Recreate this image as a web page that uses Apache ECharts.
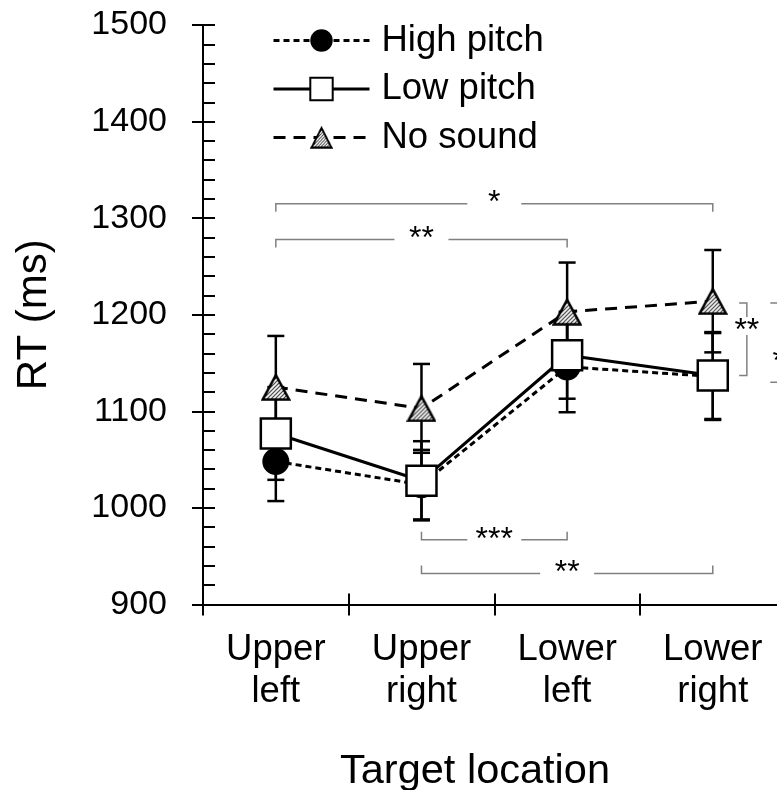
<!DOCTYPE html>
<html><head><meta charset="utf-8">
<script src="https://cdn.jsdelivr.net/npm/echarts@6/dist/echarts.min.js"></script>
<style>html,body{margin:0;padding:0;background:#fff}#c{width:777px;height:790px}</style>
</head><body><div id="c"></div>
<script>
// ---------- data ----------
const categories = ['Upper\nleft', 'Upper\nright', 'Lower\nleft', 'Lower\nright'];
const seriesNames = ['High pitch', 'Low pitch', 'No sound'];
const highPitch = [1048, 1024, 1146, 1136];
const highPitchErr = [41, 36, 47, 45];
const lowPitch = [1077, 1028, 1158, 1137];
const lowPitchErr = [48, 41, 45, 45];
const noSound = [1125, 1103, 1203, 1214];
const noSoundErr = [53, 46, 51, 53];
const yMin = 900, yMax = 1500, yStep = 100;
// significance brackets between locations
const sigLabels = ['*', '**', '***', '**'];
const sigFrom = [0, 0, 1, 1];
const sigTo = [3, 2, 2, 3];
const sigLevel = [1315, 1278, 967, 932];
// significance brackets between conditions at "Lower right"
const sideLabels = ['**', '*'];
const sideCat = [3, 3];
const sideTop = [1212, 1212];
const sideBottom = [1137, 1130];
const sideLabelLevel = [1183, 1151];

// ---------- styling ----------
const FONT = 'Liberation Sans, Arial, sans-serif';
const sideLineOffset = [0.234, 0.453];
const sideTickOffset = [0.181, 0.395];

// hatched triangle marker image (drawn at 2x, shown at 30x28)
function makeTriangle() {
  const W = 60, H = 56;
  const c = document.createElement('canvas'); c.width = W; c.height = H;
  const g = c.getContext('2d');
  const path = () => { g.beginPath(); g.moveTo(30, 4); g.lineTo(3.5, 53); g.lineTo(56.5, 53); g.closePath(); };
  path(); g.fillStyle = '#fff'; g.fill();
  g.save(); path(); g.clip();
  g.strokeStyle = '#222'; g.lineWidth = 2;
  for (let k = -H; k < W + H; k += 8) { g.beginPath(); g.moveTo(k, H); g.lineTo(k + H, 0); g.stroke(); }
  g.restore();
  path(); g.strokeStyle = '#000'; g.lineWidth = 5; g.lineJoin = 'miter'; g.stroke();
  return 'image://' + c.toDataURL();
}
const triSymbol = makeTriangle();

function errData(v, e) { return v.map((val, i) => [i, val - e[i], val + e[i]]); }
const allErr = [].concat(errData(highPitch, highPitchErr), errData(lowPitch, lowPitchErr), errData(noSound, noSoundErr));

function renderErr(params, api) {
  const x = api.value(0);
  const pLo = api.coord([x, api.value(1)]);
  const pHi = api.coord([x, api.value(2)]);
  const w = 8.5;
  const style = { stroke: '#000', lineWidth: 2.5 };
  return { type: 'group', children: [
    { type: 'line', shape: { x1: pLo[0], y1: pLo[1], x2: pHi[0], y2: pHi[1] }, style },
    { type: 'line', shape: { x1: pLo[0] - w, y1: pLo[1], x2: pLo[0] + w, y2: pLo[1] }, style },
    { type: 'line', shape: { x1: pHi[0] - w, y1: pHi[1], x2: pHi[0] + w, y2: pHi[1] }, style }
  ]};
}

const sigData = sigLabels.map((l, i) => [sigFrom[i], sigTo[i], sigLevel[i]]);
function renderSig(params, api) {
  const i = params.dataIndex;
  const p1 = api.coord([api.value(0), api.value(2)]);
  const p2 = api.coord([api.value(1), api.value(2)]);
  const y = p1[1];
  const dir = api.value(2) > 1100 ? 1 : -1;
  const tick = 8;
  const mid = (p1[0] + p2[0]) / 2;
  const gap = 27;
  const style = { stroke: '#808080', lineWidth: 1.5, fill: null };
  return { type: 'group', children: [
    { type: 'polyline', shape: { points: [[p1[0], y + dir * tick], [p1[0], y], [mid - gap, y]] }, style },
    { type: 'polyline', shape: { points: [[mid + gap, y], [p2[0], y], [p2[0], y + dir * tick]] }, style },
    { type: 'text', x: mid, y: y, style: { text: sigLabels[i], fontSize: 32, fontFamily: FONT, fill: '#000', align: 'center', verticalAlign: 'middle' } }
  ]};
}

const sideData = sideLabels.map((l, i) => [sideCat[i], sideTop[i], sideBottom[i], sideLabelLevel[i]]);
function renderSide(params, api) {
  const i = params.dataIndex;
  const pT = api.coord([api.value(0), api.value(1)]);
  const pB = api.coord([api.value(0), api.value(2)]);
  const pL = api.coord([api.value(0), api.value(3)]);
  const bw = api.size([1, 0])[0];
  const xl = pT[0] + bw * sideLineOffset[i];
  const xt = pT[0] + bw * sideTickOffset[i];
  const gc = pL[1] - 5;
  const style = { stroke: '#808080', lineWidth: 1.5, fill: null };
  return { type: 'group', children: [
    { type: 'polyline', shape: { points: [[xt, pT[1]], [xl, pT[1]], [xl, gc - 9]] }, style },
    { type: 'polyline', shape: { points: [[xl, gc + 9], [xl, pB[1]], [xt, pB[1]]] }, style },
    { type: 'text', x: xl, y: pL[1], style: { text: sideLabels[i], fontSize: 32, fontFamily: FONT, fill: '#000', align: 'center', verticalAlign: 'middle' } }
  ]};
}

const chart = echarts.init(document.getElementById('c'), null, { renderer: 'canvas' });
const tickLine = { color: '#000', width: 2 };
chart.setOption({
  animation: false,
  backgroundColor: '#fff',
  textStyle: { fontFamily: FONT },
  grid: { left: 203, top: 25, width: 582.6, height: 579.4, containLabel: false, outerBoundsMode: 'none' },
  legend: {
    orient: 'vertical', left: 267, top: 17, itemWidth: 96, itemHeight: 28, itemGap: 11.5,
    data: seriesNames,
    lineStyle: { width: 3 },
    textStyle: { fontSize: 36.5, fontFamily: FONT, color: '#000', lineHeight: 36, padding: [0, 0, 0, 7] }
  },
  xAxis: [
    { type: 'category', data: categories, position: 'bottom',
      axisLine: { show: true, lineStyle: { color: '#000', width: 2 } },
      axisTick: { show: true, inside: false, length: 11, lineStyle: tickLine },
      axisLabel: { fontSize: 36.5, lineHeight: 42, margin: 25, color: '#000', interval: 0, fontFamily: FONT },
      splitLine: { show: false } },
    { type: 'category', data: categories, position: 'bottom',
      axisLine: { show: false },
      axisTick: { show: true, inside: true, length: 11, lineStyle: tickLine },
      axisLabel: { show: false }, splitLine: { show: false } }
  ],
  yAxis: [
    { type: 'value', min: yMin, max: yMax, interval: yStep, position: 'left',
      axisLine: { show: true, lineStyle: { color: '#000', width: 2 } },
      axisTick: { show: true, inside: false, length: 11, lineStyle: tickLine },
      axisLabel: { fontSize: 34, color: '#000', margin: 36, fontFamily: FONT, formatter: v => String(v) },
      splitLine: { show: false },
      name: 'RT (ms)', nameLocation: 'middle', nameGap: 148, nameRotate: 90,
      nameTextStyle: { fontSize: 42, color: '#000', fontFamily: FONT } },
    { type: 'value', min: yMin, max: yMax, interval: yStep, position: 'left',
      axisLine: { show: false },
      axisTick: { show: true, inside: true, length: 12, lineStyle: tickLine },
      minorTick: { show: true, splitNumber: 5, length: 12, lineStyle: tickLine },
      axisLabel: { show: false }, splitLine: { show: false } }
  ],
  graphic: [
    { type: 'text', x: 475, y: 772, style: { text: 'Target location', fontSize: 41.5, fontFamily: FONT, fill: '#000', align: 'center', verticalAlign: 'middle' } }
  ],
  series: [
    { type: 'custom', name: 'err', renderItem: renderErr, data: allErr, z: 1, silent: true, clip: false },
    { type: 'custom', name: 'sig', renderItem: renderSig, data: sigData, z: 1, silent: true, clip: false },
    { type: 'custom', name: 'side', renderItem: renderSide, data: sideData, z: 1, silent: true, clip: false },
    { name: 'High pitch', type: 'line', data: highPitch, symbol: 'circle', symbolSize: 27, z: 3,
      itemStyle: { color: '#000', borderColor: '#000', borderWidth: 0 },
      lineStyle: { color: '#000', width: 3, type: [6, 4] } },
    { name: 'Low pitch', type: 'line', data: lowPitch, symbol: 'rect', symbolSize: 30, z: 4,
      itemStyle: { color: '#fff', borderColor: '#000', borderWidth: 2.5 },
      lineStyle: { color: '#000', width: 3, type: 'solid' } },
    { name: 'No sound', type: 'line', data: noSound, symbol: triSymbol, symbolSize: [30, 28], z: 5,
      itemStyle: { color: '#000' },
      lineStyle: { color: '#000', width: 3, type: [12, 8] } }
  ]
});
</script></body></html>
